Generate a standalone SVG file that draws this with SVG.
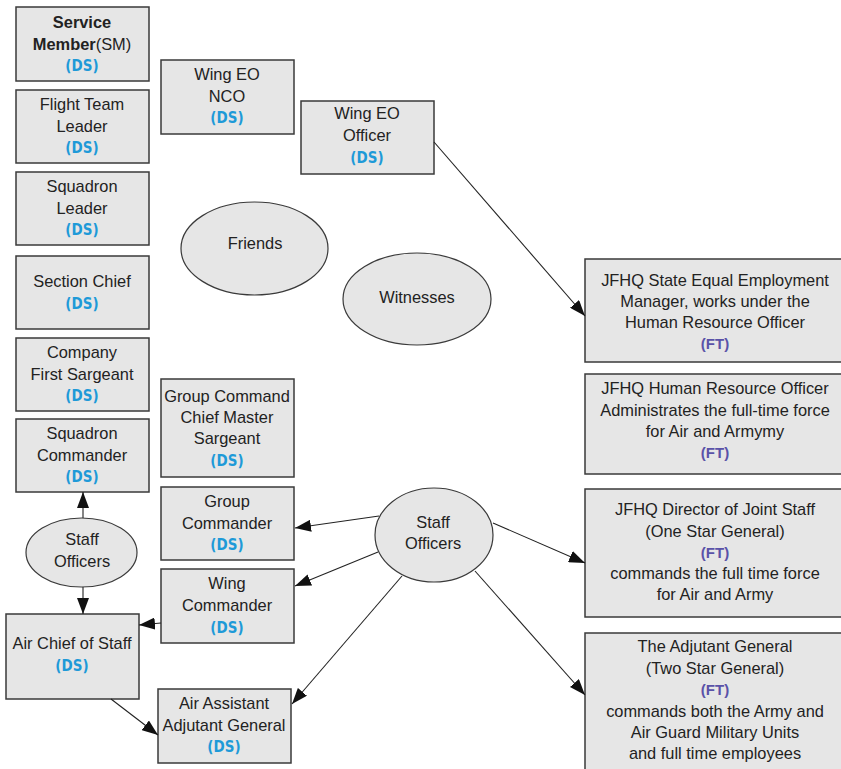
<svg xmlns="http://www.w3.org/2000/svg" width="841" height="769" viewBox="0 0 841 769">
<defs>
<style>
.box{fill:#e6e6e6;stroke:#3a3a3a;stroke-width:1.5}
.ell{fill:#e6e6e6;stroke:#3a3a3a;stroke-width:1.2}
text{font-family:"Liberation Sans",Arial,sans-serif;font-size:16.4px;fill:#222;text-anchor:middle}
.ds{font-family:"Liberation Sans Narrow","DejaVu Sans Condensed","Liberation Sans",sans-serif;font-weight:bold;fill:#1e9ad8;font-size:15px}
.ft{font-weight:bold;fill:#5a52a8;font-size:15px}
.b{font-weight:bold}
.con line{stroke:#222;stroke-width:1.1;marker-end:url(#ah)}
</style>
<marker id="ah" markerWidth="16" markerHeight="12" refX="16" refY="6" orient="auto" markerUnits="userSpaceOnUse">
<path d="M0,0 L16,6 L0,12 Z" fill="#111"/>
</marker>
</defs>
<rect width="841" height="769" fill="#fff"/>

<g id="service-member">
<rect class="box" x="16" y="7" width="133" height="74"/>
<text x="82" y="28"><tspan class="b">Service</tspan></text>
<text x="82" y="50"><tspan class="b">Member</tspan>(SM)</text>
<text class="ds" x="82" y="71">(DS)</text>
</g>
<g id="flight-team-leader">
<rect class="box" x="16" y="90" width="133" height="73"/>
<text x="82" y="110">Flight Team</text>
<text x="82" y="132">Leader</text>
<text class="ds" x="82" y="153">(DS)</text>
</g>
<g id="squadron-leader">
<rect class="box" x="16" y="172" width="133" height="73"/>
<text x="82" y="192">Squadron</text>
<text x="82" y="214">Leader</text>
<text class="ds" x="82" y="235">(DS)</text>
</g>
<g id="section-chief">
<rect class="box" x="16" y="256" width="133" height="73"/>
<text x="82" y="287">Section Chief</text>
<text class="ds" x="82" y="309">(DS)</text>
</g>
<g id="company-first-sargeant">
<rect class="box" x="16" y="338" width="133" height="73"/>
<text x="82" y="358">Company</text>
<text x="82" y="380">First Sargeant</text>
<text class="ds" x="82" y="401">(DS)</text>
</g>
<g id="squadron-commander">
<rect class="box" x="16" y="419" width="133" height="73"/>
<text x="82" y="439">Squadron</text>
<text x="82" y="461">Commander</text>
<text class="ds" x="82" y="482">(DS)</text>
</g>
<g id="staff-officers-left">
<ellipse class="ell" cx="81.5" cy="552.5" rx="55.5" ry="34.5"/>
<text x="82" y="545">Staff</text>
<text x="82" y="567">Officers</text>
</g>
<g id="air-chief-of-staff">
<rect class="box" x="6" y="614" width="133" height="85"/>
<text x="72" y="649">Air Chief of Staff</text>
<text class="ds" x="72" y="671">(DS)</text>
</g>
<g id="wing-eo-nco">
<rect class="box" x="161" y="60" width="133" height="74"/>
<text x="227" y="80">Wing EO</text>
<text x="227" y="102">NCO</text>
<text class="ds" x="227" y="123">(DS)</text>
</g>
<g id="wing-eo-officer">
<rect class="box" x="301" y="101" width="133" height="73"/>
<text x="367" y="119">Wing EO</text>
<text x="367" y="141">Officer</text>
<text class="ds" x="367" y="163">(DS)</text>
</g>
<g id="friends">
<ellipse class="ell" cx="254.5" cy="248.5" rx="73.5" ry="46.5"/>
<text x="255" y="249">Friends</text>
</g>
<g id="witnesses">
<ellipse class="ell" cx="417" cy="299" rx="74" ry="46"/>
<text x="417" y="303">Witnesses</text>
</g>
<g id="group-command-cms">
<rect class="box" x="161" y="379" width="133" height="98"/>
<text x="227" y="402">Group Command</text>
<text x="227" y="423">Chief Master</text>
<text x="227" y="444">Sargeant</text>
<text class="ds" x="227" y="466">(DS)</text>
</g>
<g id="group-commander">
<rect class="box" x="161" y="487" width="133" height="73"/>
<text x="227" y="507">Group</text>
<text x="227" y="529">Commander</text>
<text class="ds" x="227" y="550">(DS)</text>
</g>
<g id="wing-commander">
<rect class="box" x="161" y="569" width="133" height="74"/>
<text x="227" y="589">Wing</text>
<text x="227" y="611">Commander</text>
<text class="ds" x="227" y="633">(DS)</text>
</g>
<g id="air-assistant-ag">
<rect class="box" x="158" y="689" width="133" height="74"/>
<text x="224" y="709">Air Assistant</text>
<text x="224" y="731">Adjutant General</text>
<text class="ds" x="224" y="752">(DS)</text>
</g>
<g id="staff-officers-right">
<ellipse class="ell" cx="434" cy="535" rx="59" ry="47"/>
<text x="433" y="528">Staff</text>
<text x="433" y="549">Officers</text>
</g>
<g id="jfhq-seem">
<rect class="box" x="585" y="259" width="262" height="103"/>
<text x="715" y="286">JFHQ State Equal Employment</text>
<text x="715" y="307">Manager, works under the</text>
<text x="715" y="328">Human Resource Officer</text>
<text class="ft" x="715" y="349">(FT)</text>
</g>
<g id="jfhq-hro">
<rect class="box" x="585" y="374" width="262" height="100"/>
<text x="715" y="394">JFHQ Human Resource Officer</text>
<text x="715" y="416">Administrates the full-time force</text>
<text x="715" y="437">for Air and Armymy</text>
<text class="ft" x="715" y="458">(FT)</text>
</g>
<g id="jfhq-director">
<rect class="box" x="585" y="489" width="262" height="128"/>
<text x="715" y="515">JFHQ Director of Joint Staff</text>
<text x="715" y="537">(One Star General)</text>
<text class="ft" x="715" y="558">(FT)</text>
<text x="715" y="579">commands the full time force</text>
<text x="715" y="600">for Air and Army</text>
</g>
<g id="adjutant-general">
<rect class="box" x="585" y="633" width="262" height="150"/>
<text x="715" y="652">The Adjutant General</text>
<text x="715" y="674">(Two Star General)</text>
<text class="ft" x="715" y="695">(FT)</text>
<text x="715" y="717">commands both the Army and</text>
<text x="715" y="738">Air Guard Military Units</text>
<text x="715" y="759">and full time employees</text>
</g>

<g id="connectors" class="con">
<line x1="434" y1="142" x2="585" y2="316"/>
<line x1="83" y1="518" x2="83" y2="492"/>
<line x1="83" y1="587" x2="83" y2="614"/>
<line x1="379" y1="516" x2="295" y2="528"/>
<line x1="378" y1="552" x2="295" y2="586"/>
<line x1="402" y1="576" x2="292" y2="704"/>
<line x1="493" y1="523" x2="585" y2="563"/>
<line x1="475" y1="571" x2="585" y2="695"/>
<line x1="161" y1="623" x2="139" y2="625"/>
<line x1="111" y1="699" x2="158" y2="735"/>
</g>
</svg>
